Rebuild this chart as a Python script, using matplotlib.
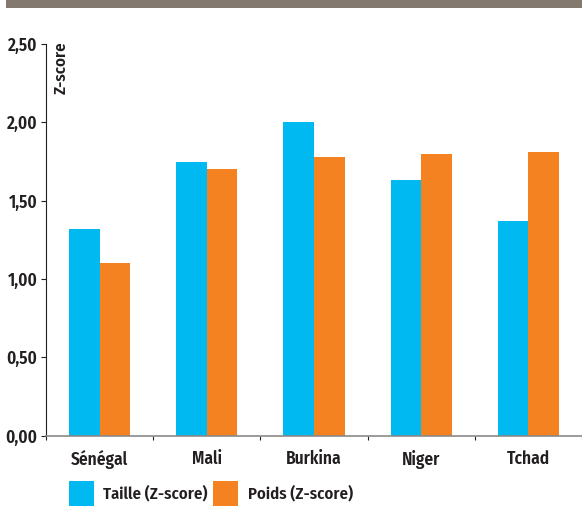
import matplotlib
matplotlib.use("Agg")
import matplotlib.pyplot as plt
from matplotlib import font_manager
from matplotlib.patches import Rectangle
import numpy as np

categories = ["Sénégal", "Mali", "Burkina", "Niger", "Tchad"]
taille = [1.32, 1.745, 2.00, 1.63, 1.37]
poids = [1.10, 1.70, 1.78, 1.795, 1.812]
yticks = [0.0, 0.5, 1.0, 1.5, 2.0, 2.5]
ytick_labels = ["0,00", "0,50", "1,00", "1,50", "2,00", "2,50"]
series_labels = ["Taille (Z-score)", "Poids (Z-score)"]

CYAN = "#00B9F1"
ORANGE = "#F48221"
TEXT = "#231F20"

avail = {f.name for f in font_manager.fontManager.ttflist}
fams = [f for f in ["Fira Sans Condensed", "Barlow Semi Condensed", "DejaVu Sans"] if f in avail]
plt.rcParams["font.family"] = fams + ["DejaVu Sans"]
WEIGHT = 600

W, H = 582, 526
fig = plt.figure(figsize=(W / 100, H / 100), dpi=100)

# top band
fig.patches.append(Rectangle((6 / W, 1 - 7.5 / H), 1 - 6 / W, 7.5 / H,
                             transform=fig.transFigure, facecolor="#84796E",
                             edgecolor="none", zorder=0))

left, right, top, bottom = 46, 582, 44, 435.6
ax = fig.add_axes([left / W, 1 - bottom / H, (right - left) / W, (bottom - top) / H])

x = np.arange(len(categories))
bw = 0.285
ax.bar(x - bw / 2, taille, bw, color=CYAN, label=series_labels[0])
ax.bar(x + bw / 2, poids, bw, color=ORANGE, label=series_labels[1])

ax.set_ylim(0, 2.5)
ax.set_xlim(-0.5, 4.47)

ax.set_yticks(yticks)
ax.set_yticklabels(ytick_labels, fontsize=12.5, color=TEXT, fontweight=WEIGHT)
ax.tick_params(axis="y", length=3.5, width=0.8, pad=2.6, color=TEXT)

ax.set_xticks(np.arange(len(categories) + 1) - 0.5)
ax.set_xticklabels([])
ax.tick_params(axis="x", which="major", length=3, width=0.8, direction="out", color=TEXT)
ax.set_xticks(x, minor=True)
ax.set_xticklabels(categories, minor=True, fontsize=12.5, color=TEXT, fontweight=WEIGHT)
ax.tick_params(axis="x", which="minor", length=0, pad=10.5)

for s in ["top", "right"]:
    ax.spines[s].set_visible(False)
ax.spines["left"].set_color(TEXT)
ax.spines["left"].set_linewidth(0.8)
ax.spines["bottom"].set_color("#8A8A8A")
ax.spines["bottom"].set_linewidth(1.2)

ax.text(61 / W, 1 - 68 / H, "Z-score", transform=fig.transFigure, rotation=90,
        ha="center", va="center", fontsize=12, color=TEXT, fontweight=WEIGHT)

# legend
sq = 25
for lab, col, sx, tx in [(series_labels[0], CYAN, 69, 103),
                         (series_labels[1], ORANGE, 212.7, 248)]:
    fig.patches.append(Rectangle((sx / W, 1 - 505.7 / H), sq / W, sq / H,
                                 transform=fig.transFigure, facecolor=col,
                                 edgecolor="none"))
    fig.text(tx / W, 1 - 493 / H, lab, ha="left", va="center", fontsize=12,
             color=TEXT, fontweight=WEIGHT)

fig.savefig("out.png", dpi=100)
